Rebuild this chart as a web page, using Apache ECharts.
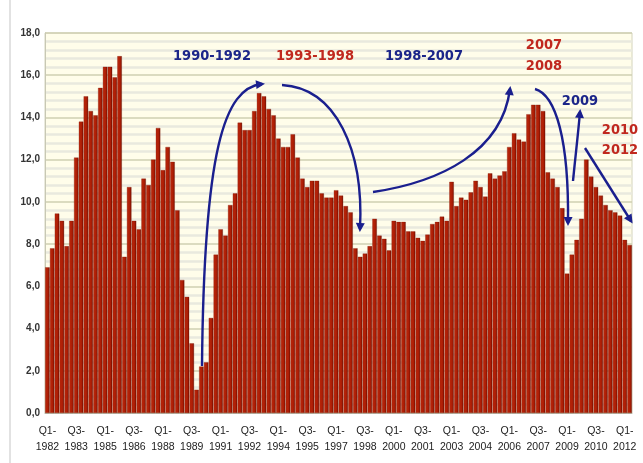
<!DOCTYPE html>
<html><head><meta charset="utf-8">
<script src="https://cdn.jsdelivr.net/npm/echarts@6/dist/echarts.min.js"></script>
<style>html,body{margin:0;padding:0;background:#fff}#c{width:643px;height:463px}</style>
</head><body><div id="c"></div>
<script>
// Quarter categories Q1-1982 .. Q2-2012
const categories = [];
for (let y = 1982; y <= 2012; y++) for (let q = 1; q <= 4; q++) { if (y === 2012 && q > 2) break; categories.push('Q' + q + '-\n' + y); }

const values = [
 6.9, 7.8, 9.45, 9.1, 7.9, 9.1, 12.1, 13.8, 15.0, 14.3, 14.1, 15.4, 16.4, 16.4, 15.9, 16.9,
 7.4, 10.7, 9.1, 8.7, 11.1, 10.8, 12.0, 13.5, 11.5, 12.6, 11.9, 9.6, 6.3, 5.5, 3.3, 1.1,
 2.2, 2.4, 4.5, 7.5, 8.7, 8.4, 9.85, 10.4, 13.75, 13.4, 13.4, 14.3, 15.15, 15.0, 14.4, 14.1,
 13.0, 12.6, 12.6, 13.2, 12.1, 11.1, 10.7, 11.0, 11.0, 10.4, 10.2, 10.2, 10.55, 10.3, 9.8, 9.5,
 7.8, 7.4, 7.55, 7.9, 9.2, 8.4, 8.25, 7.7, 9.1, 9.05, 9.05, 8.6, 8.6, 8.3, 8.15, 8.45,
 8.95, 9.05, 9.3, 9.1, 10.95, 9.8, 10.2, 10.1, 10.45, 11.0, 10.7, 10.25, 11.35, 11.1, 11.25, 11.45,
 12.6, 13.25, 12.95, 12.85, 14.15, 14.6, 14.6, 14.3, 11.4, 11.1, 10.7, 9.7, 6.6, 7.5, 8.2, 9.2,
 12.0, 11.2, 10.7, 10.3, 9.85, 9.6, 9.5, 9.35, 8.2, 7.95
];

const yTicks = [0, 2, 4, 6, 8, 10, 12, 14, 16, 18];

const annotations = [
  { text: '1990-1992', color: '#1B2589', x: 212, y: 56 },
  { text: '1993-1998', color: '#C0281E', x: 315, y: 56 },
  { text: '1998-2007', color: '#1B2589', x: 424, y: 56 },
  { text: '2007', color: '#C0281E', x: 544, y: 45 },
  { text: '2008', color: '#C0281E', x: 544, y: 66 },
  { text: '2009', color: '#1B2589', x: 580, y: 101 },
  { text: '2010', color: '#C0281E', x: 620, y: 130 },
  { text: '2012', color: '#C0281E', x: 620, y: 150 }
];

const arrows = [
  [[202, 366], [204, 150], [224, 88], [262, 84]],
  [[282, 85], [336, 88], [364, 150], [360, 229]],
  [[373, 192], [440, 182], [502, 152], [510, 89]],
  [[535, 89], [556, 95], [569, 140], [568, 223]],
  [[573, 181], [575, 160], [578, 135], [580, 112]],
  [[585, 148], [600, 172], [615, 196], [631, 221]]
];

const chart = echarts.init(document.getElementById('c'), null, { renderer: 'canvas' });

const barColor = new echarts.graphic.LinearGradient(0, 0, 1, 0, [
  { offset: 0, color: '#BC280C' },
  { offset: 0.65, color: '#AC1D05' },
  { offset: 1, color: '#6E0D00' }
]);

const graphics = [];
graphics.push({ type: 'line', shape: { x1: 10, y1: 0, x2: 10, y2: 463 }, style: { stroke: '#D8D8D8', lineWidth: 1.5 }, z: 1 });
annotations.forEach(a => graphics.push({
  type: 'text', x: a.x, y: a.y, z: 20,
  style: { text: a.text, fill: a.color, font: 'bold 14.5px "DejaVu Sans Condensed", "Liberation Sans", Arial, sans-serif', textAlign: 'center', textVerticalAlign: 'middle' }
}));
arrows.forEach(p => {
  graphics.push({
    type: 'bezierCurve', z: 20,
    shape: { x1: p[0][0], y1: p[0][1], cpx1: p[1][0], cpy1: p[1][1], cpx2: p[2][0], cpy2: p[2][1], x2: p[3][0], y2: p[3][1] },
    style: { stroke: '#1A1F8E', lineWidth: 2.4, fill: null }
  });
  const dx = p[3][0] - p[2][0], dy = p[3][1] - p[2][1];
  const L = Math.hypot(dx, dy) || 1, ux = dx / L, uy = dy / L;
  const tip = [p[3][0] + ux * 3, p[3][1] + uy * 3];
  const base = [tip[0] - ux * 9, tip[1] - uy * 9];
  const w = 4.5;
  graphics.push({
    type: 'polygon', z: 21,
    shape: { points: [tip, [base[0] - uy * w, base[1] + ux * w], [base[0] + uy * w, base[1] - ux * w]] },
    style: { fill: '#1A1F8E' }
  });
});

chart.setOption({
  animation: false,
  backgroundColor: '#ffffff',
  grid: { left: 45, right: 11, top: 33, bottom: 50, show: true, backgroundColor: '#FFFDEA', borderColor: '#D4D4BC', borderWidth: 1 },
  xAxis: {
    type: 'category', data: categories, boundaryGap: true,
    axisLine: { lineStyle: { color: '#B8B8A8' } },
    axisTick: { show: false },
    axisLabel: { interval: 5, color: '#222', fontSize: 10.5, lineHeight: 16, margin: 10, fontFamily: 'Liberation Sans, Arial, sans-serif' }
  },
  yAxis: {
    type: 'value', min: yTicks[0], max: yTicks[yTicks.length - 1], interval: 2,
    axisLine: { show: true, lineStyle: { color: '#C8C8B4' } },
    axisTick: { show: false },
    axisLabel: { color: '#333', fontSize: 10, fontWeight: 'bold', margin: 5, fontFamily: 'Liberation Sans, Arial, sans-serif',
      formatter: v => v.toFixed(1).replace('.', ',') },
    splitLine: { lineStyle: { color: '#CFCFB2', width: 1.5 } },
    minorTick: { show: false, splitNumber: 5 },
    minorSplitLine: { show: true, lineStyle: { color: '#E9E9DE', width: 2.5 } }
  },
  series: [{
    type: 'bar', data: values, barCategoryGap: '8%',
    itemStyle: { color: barColor, borderColor: '#7A1000', borderWidth: 0.3 }
  }],
  graphic: graphics
});
</script></body></html>
